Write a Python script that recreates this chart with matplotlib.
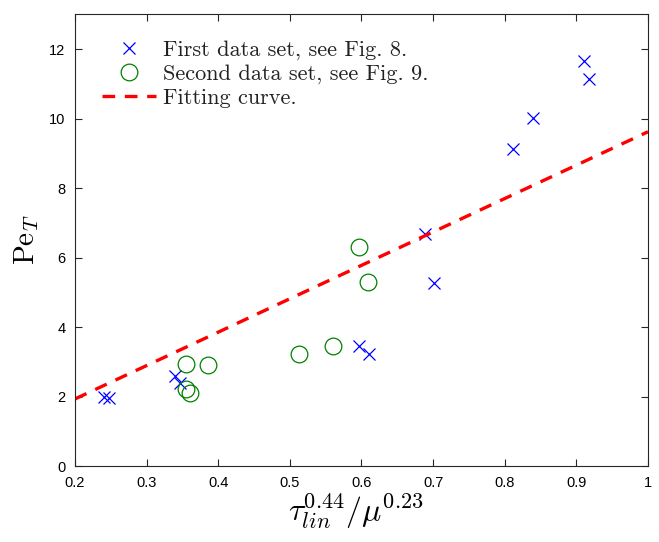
import matplotlib
matplotlib.use('Agg')
import matplotlib.pyplot as plt

plt.rcParams['mathtext.fontset'] = 'cm'
plt.rcParams['font.family'] = ['Liberation Sans', 'DejaVu Sans']

# first data set (Fig. 8)
x1 = [0.240, 0.247, 0.340, 0.346, 0.597, 0.610, 0.689, 0.701, 0.812, 0.839, 0.911, 0.918]
y1 = [1.99, 1.95, 2.60, 2.40, 3.45, 3.22, 6.68, 5.27, 9.11, 10.02, 11.65, 11.14]

# second data set (Fig. 9)
x2 = [0.355, 0.385, 0.355, 0.361, 0.513, 0.560, 0.596, 0.609]
y2 = [2.95, 2.91, 2.23, 2.09, 3.21, 3.45, 6.29, 5.29]

# fitting curve end points
fit_x = [0.2, 1.0]
fit_y = [1.93, 9.62]

fig = plt.figure(figsize=(6.59, 5.42), dpi=100)
ax = fig.add_axes([0.1138, 0.1402, 0.8695, 0.8334])

ax.plot(x1, y1, 'x', color='#0000ff', markersize=8, markeredgewidth=0.9,
        label='First data set, see Fig. 8.')
ax.plot(x2, y2, 'o', markerfacecolor='none', markeredgecolor='#008000',
        markersize=12, markeredgewidth=0.9, label='Second data set, see Fig. 9.')
ax.plot(fit_x, fit_y, '--', color='#ff0000', linewidth=2.4, dashes=(3.8, 2.9),
        label='Fitting curve.')

ax.set_xlim(0.2, 1.0)
ax.set_ylim(0, 13)
ax.set_xticks([0.2, 0.3, 0.4, 0.5, 0.6, 0.7, 0.8, 0.9, 1.0])
ax.set_xticklabels(['0.2', '0.3', '0.4', '0.5', '0.6', '0.7', '0.8', '0.9', '1'])
ax.set_yticks([0, 2, 4, 6, 8, 10, 12])
ax.tick_params(direction='in', length=5, width=0.8, top=True, right=True,
               labelsize=10.5, pad=7, colors='#262626', labelcolor='black')
for s in ax.spines.values():
    s.set_linewidth(0.8)
    s.set_color('#262626')

ax.set_xlabel(r'$\tau_{lin}^{0.44}/\mu^{0.23}$', fontsize=23)
ax.xaxis.set_label_coords(0.49, -0.055, transform=ax.transAxes)
ax.xaxis.label.set_va('top')
ax.set_ylabel(r'$\mathrm{Pe}_T$', fontsize=21, labelpad=6)

# legend without frame, lines close together
leg = ax.legend(loc='upper left', bbox_to_anchor=(0.032, 0.962), frameon=False,
                prop={'family': 'cmr10', 'size': 16}, labelspacing=0.18,
                handlelength=2.4, handletextpad=0.35, borderaxespad=0)
for t in leg.get_texts():
    t.set_color('#222222')

fig.savefig('out.png', dpi=100)
